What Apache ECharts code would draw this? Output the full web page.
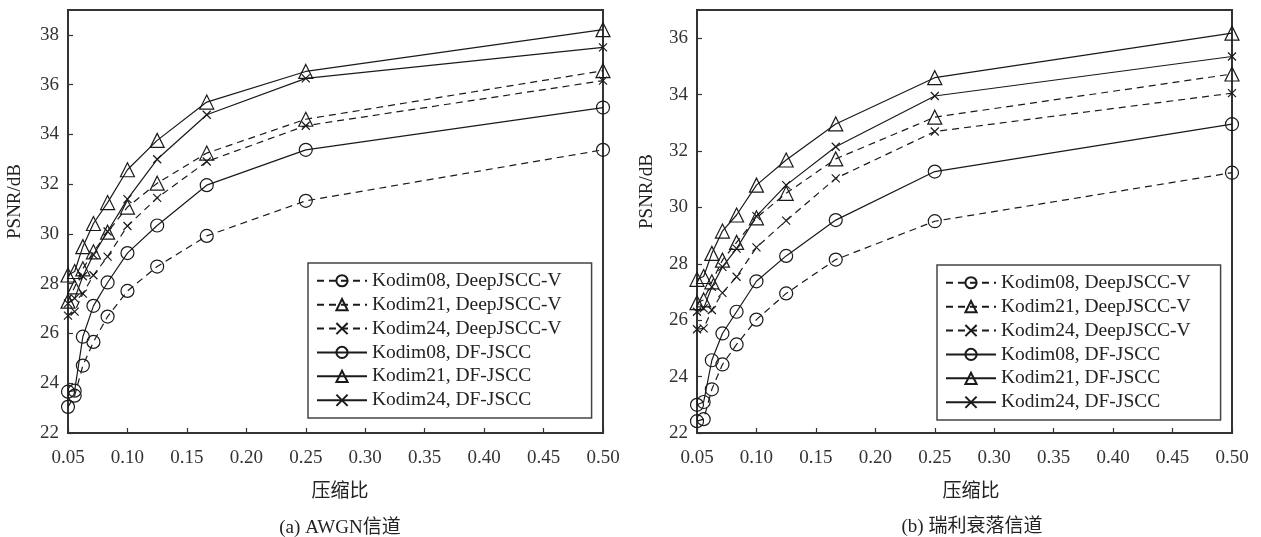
<!DOCTYPE html>
<html>
<head>
<meta charset="utf-8">
<script src="https://cdn.jsdelivr.net/npm/echarts@6/dist/echarts.min.js"></script>
<style>
html,body{margin:0;padding:0;background:#fff;}
#c{width:1261px;height:537px;}
</style>
</head>
<body>
<div id="c"></div>
<script>
// compression ratios (x values)
var ratios = [0.05, 0.0556, 0.0625, 0.0714, 0.0833, 0.1, 0.125, 0.1667, 0.25, 0.5];
var seriesNames = ['Kodim08, DeepJSCC-V', 'Kodim21, DeepJSCC-V', 'Kodim24, DeepJSCC-V', 'Kodim08, DF-JSCC', 'Kodim21, DF-JSCC', 'Kodim24, DF-JSCC'];
var panelCaptions = ['(a) AWGN信道', '(b) 瑞利衰落信道'];
var xAxisTitle = '压缩比';
var yAxisTitle = 'PSNR/dB';

// (a) AWGN channel
var awgn_k08_deep = [23.05, 23.5, 24.71, 25.66, 26.68, 27.71, 28.69, 29.92, 31.33, 33.38];
var awgn_k21_deep = [27.3, 27.87, 28.6, 29.28, 30.07, 31.08, 32.04, 33.25, 34.61, 36.56];
var awgn_k24_deep = [26.72, 26.88, 27.6, 28.34, 29.09, 30.32, 31.45, 32.91, 34.35, 36.16];
var awgn_k08_df = [23.66, 23.7, 25.87, 27.11, 28.05, 29.23, 30.34, 31.96, 33.38, 35.08];
var awgn_k21_df = [28.35, 28.49, 29.49, 30.42, 31.26, 32.58, 33.76, 35.3, 36.53, 38.21];
var awgn_k24_df = [27.21, 27.41, 28.3, 29.16, 30.1, 31.4, 33.0, 34.79, 36.25, 37.5];

// (b) Rayleigh fading channel
var ray_k08_deep = [22.42, 22.49, 23.55, 24.43, 25.14, 26.02, 26.95, 28.15, 29.51, 31.23];
var ray_k21_deep = [26.62, 26.72, 27.36, 28.13, 28.76, 29.63, 30.5, 31.72, 33.2, 34.73];
var ray_k24_deep = [25.68, 25.71, 26.36, 26.97, 27.54, 28.58, 29.53, 31.03, 32.69, 34.05];
var ray_k08_df = [23.0, 23.1, 24.58, 25.53, 26.3, 27.38, 28.28, 29.55, 31.27, 32.95];
var ray_k21_df = [27.45, 27.55, 28.37, 29.16, 29.73, 30.79, 31.68, 32.96, 34.6, 36.18];
var ray_k24_df = [26.3, 26.42, 27.18, 27.89, 28.54, 29.69, 30.79, 32.15, 33.95, 35.35];

var FONT = "'Liberation Serif', 'Times New Roman', 'Noto Sans CJK SC', serif";
var AX = '#333';
var LINE = '#1a1a1a';
var SYM_X = 'path://M0,0L10,10M0,10L10,0';

var styles = [
  {symbol: 'circle', size: 13, dashed: true},
  {symbol: 'triangle', size: 14, dashed: true},
  {symbol: SYM_X, size: 8, dashed: true},
  {symbol: 'circle', size: 13, dashed: false},
  {symbol: 'triangle', size: 14, dashed: false},
  {symbol: SYM_X, size: 8, dashed: false}
];

function pairs(vals) {
  return ratios.map(function (x, i) { return [x, vals[i]]; });
}

function mkSeries(idx, name, vals, st) {
  return {
    type: 'line', name: name, xAxisIndex: idx, yAxisIndex: idx,
    data: pairs(vals),
    symbol: st.symbol, symbolSize: st.size, showAllSymbol: true,
    lineStyle: {color: LINE, width: 1.2, type: st.dashed ? [7, 5] : 'solid'},
    itemStyle: {color: 'rgba(255,255,255,0)', borderColor: LINE, borderWidth: 1.2},
    emphasis: {disabled: true},
    animation: false, z: 3
  };
}

var panels = [
  [awgn_k08_deep, awgn_k21_deep, awgn_k24_deep, awgn_k08_df, awgn_k21_df, awgn_k24_df],
  [ray_k08_deep, ray_k21_deep, ray_k24_deep, ray_k08_df, ray_k21_df, ray_k24_df]
];

var series = [];
panels.forEach(function (p, pi) {
  p.forEach(function (vals, si) { series.push(mkSeries(pi, seriesNames[si], vals, styles[si])); });
});

function xAx(idx, padLeft) {
  return {
    type: 'value', gridIndex: idx, min: 0.05, max: 0.5, interval: 0.05,
    name: xAxisTitle, nameLocation: 'middle', nameGap: 50,
    nameTextStyle: {fontFamily: FONT, fontSize: 19, color: '#222', padding: [0, 0, 0, padLeft]},
    axisLine: {show: true, lineStyle: {color: AX, width: 2}},
    axisTick: {show: true, inside: true, length: 5, lineStyle: {color: AX, width: 1.2}},
    axisLabel: {fontFamily: FONT, fontSize: 19, color: '#333', margin: 16,
      formatter: function (v) { return v.toFixed(2); }},
    splitLine: {show: false}
  };
}
function yAx(idx, max, nameGap, padLeft) {
  return {
    type: 'value', gridIndex: idx, min: 22, max: max, interval: 2,
    name: yAxisTitle, nameLocation: 'middle', nameGap: nameGap,
    nameTextStyle: {fontFamily: FONT, fontSize: 19, color: '#222', padding: [0, 0, 0, padLeft]},
    axisLine: {show: true, lineStyle: {color: AX, width: 2}},
    axisTick: {show: true, inside: true, length: 5, lineStyle: {color: AX, width: 1.2}},
    axisLabel: {fontFamily: FONT, fontSize: 19, color: '#333', margin: 9, showMaxLabel: false,
      formatter: function (v) { return (v % 2 === 0) ? String(v) : ''; }},
    splitLine: {show: false}
  };
}
function legend(left, top) {
  return {
    data: seriesNames, orient: 'vertical', left: left, top: top,
    itemWidth: 50, itemHeight: 14, itemGap: 4.4, padding: [8, 30, 8, 8],
    borderColor: '#444', borderWidth: 1.5, backgroundColor: '#fff',
    textStyle: {fontFamily: FONT, fontSize: 19.5, color: '#222'},
    selectedMode: false
  };
}

var option = {
  backgroundColor: '#fff',
  animation: false,
  grid: [
    {left: 68, top: 10, width: 535, height: 423, show: true, borderColor: AX, borderWidth: 2},
    {left: 697, top: 10, width: 535, height: 423, show: true, borderColor: AX, borderWidth: 2}
  ],
  xAxis: [xAx(0, 9), xAx(1, 13)],
  yAxis: [yAx(0, 39, 43, 40), yAx(1, 37, 40, 60)],
  legend: [legend(308, 263), legend(937, 265)],
  graphic: [
    {type: 'text', x: 340, y: 528, style: {text: panelCaptions[0], font: '19px ' + FONT, fill: '#222', align: 'center', verticalAlign: 'middle'}},
    {type: 'text', x: 972, y: 527, style: {text: panelCaptions[1], font: '19px ' + FONT, fill: '#222', align: 'center', verticalAlign: 'middle'}}
  ],
  series: series
};

var chart = echarts.init(document.getElementById('c'), null, {renderer: 'canvas'});
chart.setOption(option);
</script>
</body>
</html>
